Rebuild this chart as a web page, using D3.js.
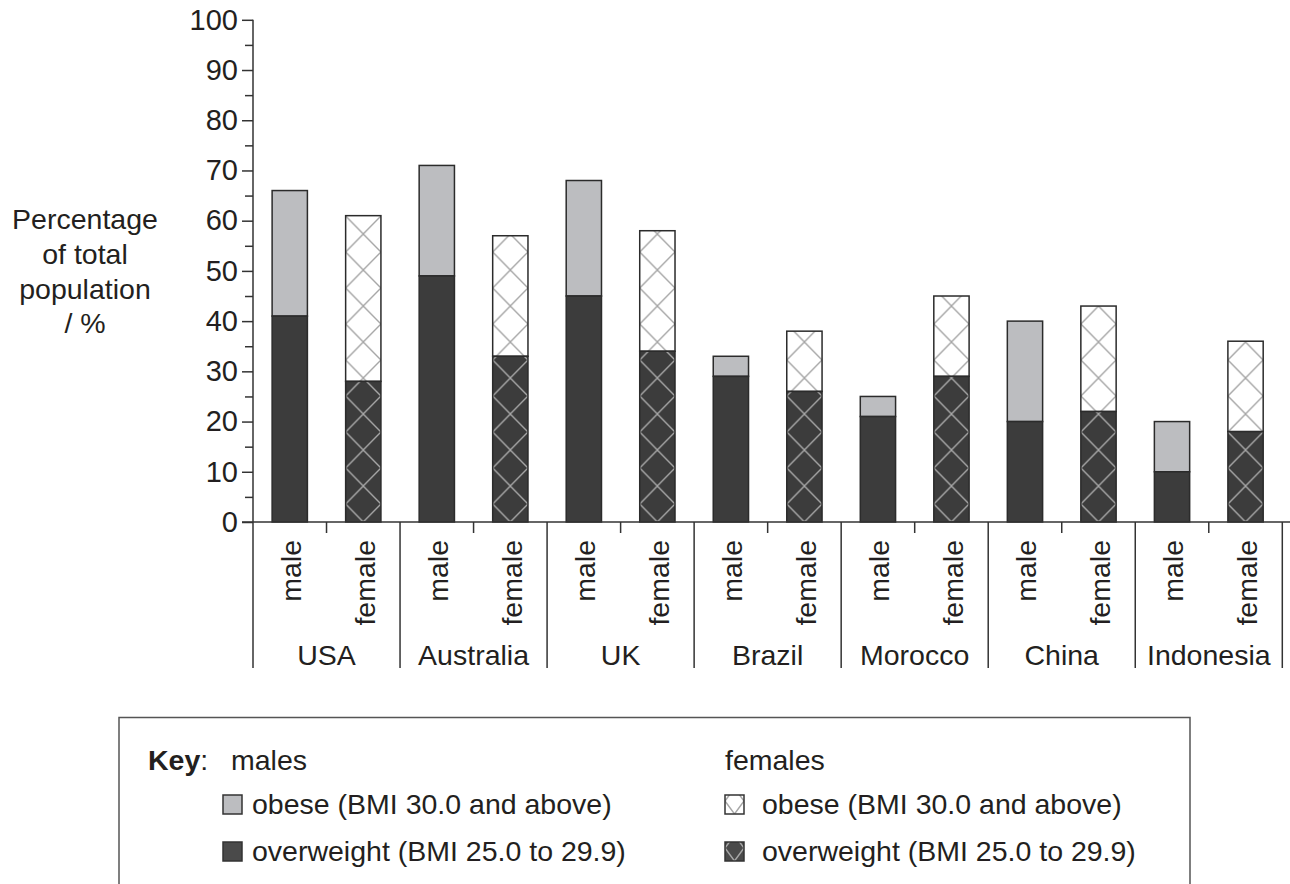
<!DOCTYPE html>
<html>
<head>
<meta charset="utf-8">
<script src="https://cdn.jsdelivr.net/npm/d3@7"></script>
<style>
  html, body { margin: 0; padding: 0; background: #fff; }
  svg { display: block; }
  text { font-family: "Liberation Sans", Arial, Helvetica, sans-serif; fill: #231f20; }
</style>
</head>
<body>
<svg id="chart" width="1290" height="884"></svg>
<script>
// ---- data ----
const countries = ["USA", "Australia", "UK", "Brazil", "Morocco", "China", "Indonesia"];
const sexes = ["male", "female"];
// percentage overweight (BMI 25.0 to 29.9)
const maleOverweight   = [41, 49, 45, 29, 21, 20, 10];
const femaleOverweight = [28, 33, 34, 26, 29, 22, 18];
// total overweight + obese (top of bar)
const maleTotal   = [66, 71, 68, 33, 25, 40, 20];
const femaleTotal = [61, 57, 58, 38, 45, 43, 36];
const yTicks = [0, 10, 20, 30, 40, 50, 60, 70, 80, 90, 100];
const yMinorTicks = [5, 15, 25, 35, 45, 55, 65, 75, 85, 95];
const yTitle = ["Percentage", "of total", "population", "/ %"];
const keyMales = "males", keyFemales = "females";
const keyItems = ["obese (BMI 30.0 and above)", "overweight (BMI 25.0 to 29.9)"];

// ---- styles ----
const DARK = "#3c3c3c", LIGHT = "#bcbdc0", WHITE = "#ffffff";
const STROKE = "#2b2b2b", HATCH = "#a6a6a6";
const FS = 28.5;

const svg = d3.select("#chart");
const x0 = 253, x1 = 1282.3, yBase = 522, yTop = 19.8;

const y = d3.scaleLinear().domain([0, 100]).range([yBase, yTop]);
const xg = d3.scaleBand().domain(countries).range([x0, x1]).padding(0);
const xs = d3.scaleBand().domain(sexes).range([0, xg.bandwidth()])
  .paddingInner(0.52).paddingOuter(0.26);
const bw = xs.bandwidth();

const defs = svg.append("defs");
const H = 36;
function makePattern(id, px, py, w, h, bg) {
  const p = defs.append("pattern").attr("id", id)
    .attr("patternUnits", "userSpaceOnUse")
    .attr("x", px).attr("y", py).attr("width", w).attr("height", h);
  p.append("rect").attr("width", w).attr("height", h).attr("fill", bg);
  p.append("path")
    .attr("d", `M${w/2},0 L0,${h/2} L${w/2},${h} L${w},${h/2} Z`)
    .attr("fill", "none").attr("stroke", HATCH).attr("stroke-width", 1.4);
  return `url(#${id})`;
}

// records
const rows = [];
countries.forEach((c, i) => {
  rows.push({ c, s: "male", ow: maleOverweight[i], tot: maleTotal[i], i });
  rows.push({ c, s: "female", ow: femaleOverweight[i], tot: femaleTotal[i], i });
});

const gBars = svg.append("g");
rows.forEach(d => {
  const bx = xg(d.c) + xs(d.s);
  let topFill = LIGHT, botFill = DARK;
  if (d.s === "female") {
    topFill = makePattern(`pt${d.i}`, bx, yBase, bw, H, WHITE);
    botFill = makePattern(`pb${d.i}`, bx, yBase, bw, H, DARK);
  }
  gBars.append("rect")
    .attr("x", bx).attr("width", bw)
    .attr("y", y(d.tot)).attr("height", y(d.ow) - y(d.tot))
    .attr("fill", topFill).attr("stroke", STROKE).attr("stroke-width", 1.5);
  gBars.append("rect")
    .attr("x", bx).attr("width", bw)
    .attr("y", y(d.ow)).attr("height", yBase - y(d.ow))
    .attr("fill", botFill).attr("stroke", STROKE).attr("stroke-width", 1.5);
});

// ---- y axis ----
const yAxis = svg.append("g").attr("transform", `translate(${x0},0)`)
  .call(d3.axisLeft(y).tickValues(yTicks).tickSize(11).tickPadding(4).tickFormat(d3.format("d")));
svg.append("g").attr("transform", `translate(${x0},0)`)
  .call(d3.axisLeft(y).tickValues(yMinorTicks).tickSize(8).tickFormat(""))
  .select(".domain").remove();
svg.selectAll(".tick line").attr("stroke", "#333").attr("stroke-width", 1.5);
yAxis.select(".domain").attr("stroke", "#333").attr("stroke-width", 1.5).attr("d", `M0,${yTop}H0V${yBase}`);
yAxis.selectAll(".tick text").attr("font-size", 29).attr("fill", "#231f20")
  .attr("font-family", '"Liberation Sans", Arial, sans-serif');

// ---- x axis ----
const gx = svg.append("g");
gx.append("line").attr("x1", 242).attr("x2", 1290).attr("y1", yBase).attr("y2", yBase)
  .attr("stroke", "#333").attr("stroke-width", 1.5);
const bounds = countries.map(c => xg(c)).concat([x1]);
gx.selectAll(".sep").data(bounds).join("line")
  .attr("x1", d => d).attr("x2", d => d).attr("y1", yBase).attr("y2", 668)
  .attr("stroke", "#333").attr("stroke-width", 1.5);
gx.selectAll(".mid").data(countries).join("line")
  .attr("x1", c => xg(c) + xg.bandwidth() / 2).attr("x2", c => xg(c) + xg.bandwidth() / 2)
  .attr("y1", yBase).attr("y2", 533)
  .attr("stroke", "#333").attr("stroke-width", 1.5);
rows.forEach(d => {
  const cx = xg(d.c) + xs(d.s) + bw / 2;
  gx.append("text").attr("transform", `translate(${cx},540) rotate(-90)`)
    .attr("text-anchor", "end").attr("dy", "0.4em").attr("font-size", FS).text(d.s);
});
gx.selectAll(".cl").data(countries).join("text")
  .attr("x", c => xg(c) + xg.bandwidth() / 2).attr("y", 665)
  .attr("text-anchor", "middle").attr("font-size", FS).text(c => c);

// ---- y title ----
svg.append("g").selectAll("text").data(yTitle).join("text")
  .attr("x", 85).attr("y", (d, i) => 229 + i * 34.8)
  .attr("text-anchor", "middle").attr("font-size", FS).text(d => d);

// ---- legend ----
const lg = svg.append("g");
lg.append("path").attr("d", "M119,890V717.5H1190V890")
  .attr("fill", "none").attr("stroke", "#555").attr("stroke-width", 1.5);
lg.append("text").attr("x", 148).attr("y", 770).attr("font-size", FS)
  .html('<tspan font-weight="bold">Key</tspan>:');
lg.append("text").attr("x", 231).attr("y", 770).attr("font-size", FS).text(keyMales);
lg.append("text").attr("x", 725).attr("y", 770).attr("font-size", FS).text(keyFemales);
const sw = 19;
const rowY = [795, 842];
const maleFills = [LIGHT, "#4a4a4a"];
const femFills = [
  makePattern("lk0", 725, rowY[0] + sw, sw, 26, WHITE),
  makePattern("lk1", 725, rowY[1] + sw, sw, 26, "#4a4a4a")
];
keyItems.forEach((t, i) => {
  lg.append("rect").attr("x", 223).attr("y", rowY[i]).attr("width", sw).attr("height", sw)
    .attr("fill", maleFills[i]).attr("stroke", "#333").attr("stroke-width", 1.5);
  lg.append("text").attr("x", 252).attr("y", rowY[i] + 19).attr("font-size", FS).text(t);
  lg.append("rect").attr("x", 725).attr("y", rowY[i]).attr("width", sw).attr("height", sw)
    .attr("fill", femFills[i]).attr("stroke", "#333").attr("stroke-width", 1.5);
  lg.append("text").attr("x", 762).attr("y", rowY[i] + 19).attr("font-size", FS).text(t);
});
</script>
</body>
</html>
